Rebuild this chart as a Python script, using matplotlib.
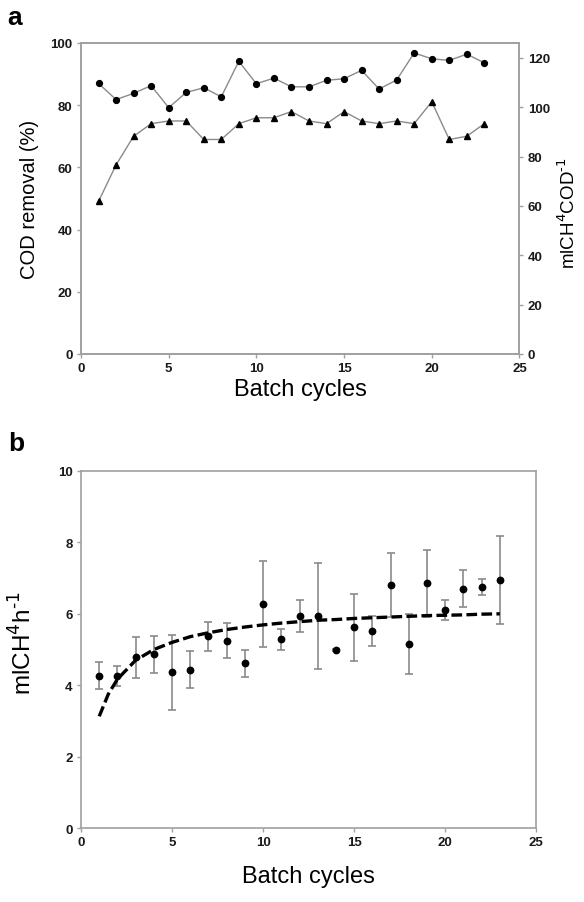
import matplotlib
matplotlib.use('Agg')
import matplotlib.pyplot as plt

plt.rcParams['font.family'] = ['Liberation Sans', 'DejaVu Sans']

# panel a
cycles = list(range(1, 24))
cod_removal = [87.0, 81.8, 83.8, 86.3, 79.2, 84.1, 85.6, 82.7, 94.1, 86.9, 88.7, 85.9,
               85.9, 88.0, 88.5, 91.2, 85.2, 88.1, 96.8, 94.9, 94.4, 96.4, 93.6]
ch4_yield = [61.8, 76.6, 88.2, 93.3, 94.4, 94.4, 86.9, 86.9, 93.3, 95.7, 95.7, 98.2,
             94.4, 93.3, 98.2, 94.4, 93.3, 94.4, 93.3, 102.2, 86.9, 88.2, 93.3]

# panel b
ch4_rate = [4.27, 4.25, 4.78, 4.87, 4.36, 4.44, 5.37, 5.25, 4.62, 6.27, 5.29, 5.94,
            5.94, 4.99, 5.62, 5.53, 6.80, 5.15, 6.85, 6.10, 6.70, 6.75, 6.94]
ch4_err = [0.38, 0.28, 0.58, 0.52, 1.05, 0.51, 0.40, 0.50, 0.38, 1.21, 0.29, 0.44,
           1.49, 0.03, 0.94, 0.42, 0.89, 0.84, 0.93, 0.28, 0.52, 0.23, 1.23]
fit_x = [1, 1.5, 2, 3, 4, 5, 6, 7, 8, 9, 10, 11, 12, 13, 14, 15, 16, 17, 18, 19, 20, 21, 22, 23]
fit_y = [3.13, 3.75, 4.17, 4.70, 5.00, 5.20, 5.36, 5.47, 5.56, 5.63, 5.69, 5.74, 5.78,
         5.82, 5.84, 5.87, 5.89, 5.91, 5.93, 5.95, 5.96, 5.97, 5.99, 6.00]

GRAY = '#8a8a8a'
SPINE = '#a0a0a0'

fig = plt.figure(figsize=(5.84, 9.03), dpi=100)


def style(ax):
    for s in ax.spines.values():
        s.set_color(SPINE)
        s.set_linewidth(1.2)
    ax.tick_params(direction='out', length=3, width=1, color=SPINE,
                   labelsize=9.5, labelcolor='#1a1a1a', pad=3)
    for t in ax.get_xticklabels() + ax.get_yticklabels():
        t.set_fontweight('bold')


# ---- a ----
ax1 = fig.add_axes([0.1387, 0.6069, 0.8894 - 0.1387, 0.9513 - 0.6069])
ax1.plot(cycles, cod_removal, '-o', color=GRAY, lw=1.0, mfc='black', mec='black', ms=4.2)
ax1.set_xlim(0, 25)
ax1.set_ylim(0, 100)
ax1.set_xticks(range(0, 26, 5))
ax1.set_yticks(range(0, 101, 20))
ax1.set_xlabel('Batch cycles', fontsize=17, labelpad=3)
ax1.set_ylabel('COD removal (%)', fontsize=14.5, labelpad=8)
style(ax1)

ax2 = ax1.twinx()
ax2.plot(cycles, ch4_yield, '-^', color=GRAY, lw=1.0, mfc='black', mec='black', ms=4.6)
ax2.set_ylim(0, 126)
ax2.set_yticks(range(0, 121, 20))
ax2.set_ylabel(r'mlCH$^{4}$COD$^{\text{-1}}$', fontsize=13.5)
ax2.yaxis.set_label_coords(1.088, 0.455)
style(ax2)

# ---- b ----
ax3 = fig.add_axes([0.1387, 0.0819, 0.9182 - 0.1387, 0.4773 - 0.0819])
ax3.errorbar(cycles, ch4_rate, yerr=ch4_err, fmt='none', ecolor=GRAY, elinewidth=1.2,
             capsize=2.8, capthick=1.2, zorder=2)
line, = ax3.plot(fit_x, fit_y, '--', color='black', lw=2.4, zorder=3)
line.set_dashes((3.2, 1.3))
ax3.plot(cycles, ch4_rate, 'o', color='black', ms=4.6, zorder=4)
ax3.set_xlim(0, 25)
ax3.set_ylim(0, 10)
ax3.set_xticks(range(0, 26, 5))
ax3.set_yticks(range(0, 11, 2))
ax3.set_xlabel('Batch cycles', fontsize=17, labelpad=12)
ax3.set_ylabel(r'mlCH$^{4}$h$^{\text{-1}}$', fontsize=17.5)
ax3.yaxis.set_label_coords(-0.098, 0.521)
style(ax3)

fig.text(0.012, 0.980, 'a', fontsize=19, fontweight='bold', va='center', ha='left')
fig.text(0.014, 0.508, 'b', fontsize=19, fontweight='bold', va='center', ha='left')

fig.savefig('out.png', dpi=100, facecolor='white')
